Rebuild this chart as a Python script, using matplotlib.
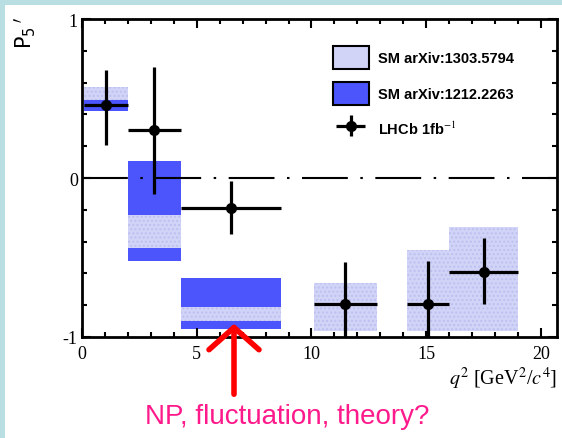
import matplotlib
matplotlib.use('Agg')
import matplotlib.pyplot as plt
from matplotlib.patches import Patch, Rectangle, FancyArrowPatch
from matplotlib.ticker import MultipleLocator
from matplotlib.legend_handler import HandlerErrorbar

plt.rcParams['mathtext.fontset'] = 'stix'
plt.rcParams['axes.unicode_minus'] = False

# LHCb 1fb-1 P5' bins
bin_lo = [0.1, 2.0, 4.3, 10.09, 14.18, 16.0]
bin_hi = [2.0, 4.3, 8.68, 12.86, 16.0, 19.0]
p5 = [0.46, 0.30, -0.19, -0.79, -0.79, -0.59]
err_up = [0.22, 0.40, 0.17, 0.26, 0.27, 0.21]
err_dn = [0.25, 0.40, 0.16, 0.27, 0.25, 0.20]

# SM arXiv:1303.5794 (light boxes)
sm1_lo = [0.49, -0.44, -0.90, -0.96, -0.96, -0.96]
sm1_hi = [0.57, -0.23, -0.81, -0.66, -0.45, -0.31]

# SM arXiv:1212.2263 (dark boxes, low q2 only)
sm2_xlo = [0.1, 2.0, 4.3]
sm2_xhi = [2.0, 4.3, 8.68]
sm2_lo = [0.42, -0.52, -0.95]
sm2_hi = [0.50, 0.11, -0.63]

light = '#d2d4f7'
dark = '#4b55fb'

fig = plt.figure(figsize=(5.62, 4.39), dpi=100)
fig.patch.set_facecolor('#b9dfe2')
fig.add_artist(Rectangle((5/562, 0), 1, 1 - 6/439, transform=fig.transFigure,
                         facecolor='white', edgecolor='none', zorder=0))

ax = fig.add_axes([82/562, 1 - 338/439, 475/562, 318/439])
ax.set_facecolor('white')

# theory bands
ax.bar(sm2_xlo, [h - l for h, l in zip(sm2_hi, sm2_lo)],
       width=[b - a for a, b in zip(sm2_xlo, sm2_xhi)], bottom=sm2_lo,
       align='edge', color=dark, edgecolor='none', zorder=1)
ax.bar(bin_lo, [h - l for h, l in zip(sm1_hi, sm1_lo)],
       width=[b - a for a, b in zip(bin_lo, bin_hi)], bottom=sm1_lo,
       align='edge', color=light, edgecolor='#bcc0f0', linewidth=0,
       hatch='....', zorder=2)

# zero line
ax.axhline(0, color='black', lw=1.5, dashes=(22, 6, 1.2, 6), zorder=3)

# data
xc = [(a + b) / 2 for a, b in zip(bin_lo, bin_hi)]
xerr = [[c - a for c, a in zip(xc, bin_lo)], [b - c for c, b in zip(xc, bin_hi)]]
eb = ax.errorbar(xc, p5, xerr=xerr, yerr=[err_dn, err_up], fmt='o', color='black',
                 ms=7, elinewidth=2.3, capsize=0, zorder=4)

ax.set_xlim(0, 20.7)
ax.set_ylim(-1, 1)
ax.xaxis.set_major_locator(MultipleLocator(5))
ax.xaxis.set_minor_locator(MultipleLocator(1))
ax.yaxis.set_major_locator(MultipleLocator(1))
ax.yaxis.set_minor_locator(MultipleLocator(0.2))
ax.tick_params(which='both', direction='in', top=True, right=True, width=1.5)
ax.tick_params(which='major', length=6.5)
ax.tick_params(which='minor', length=3.6)
ax.tick_params(axis='x', pad=6)
ax.tick_params(axis='y', pad=3)
for s in ax.spines.values():
    s.set_linewidth(2)
for lab in ax.get_xticklabels() + ax.get_yticklabels():
    lab.set_family('Liberation Serif')
    lab.set_fontsize(13)

ax.set_xlabel(r'$q^2$ [GeV$^2$/$c^4$]', family='Liberation Serif', fontsize=14.5,
              loc='right', labelpad=2)

fig.text(25/562, 1 - 33/439, r"$\mathrm{P}_{5}\,^{\prime}$", rotation=90, fontsize=15,
         ha='center', va='center', math_fontfamily='dejavusans')

handles = [Patch(facecolor=light, edgecolor='black', linewidth=1.5),
           Patch(facecolor=dark, edgecolor='black', linewidth=1.5), eb]
labels = ['SM arXiv:1303.5794', 'SM arXiv:1212.2263', r'LHCb 1fb$^{-1}$']
leg = ax.legend(handles, labels, loc='upper left', bbox_to_anchor=(0.50, 0.955),
                frameon=False, handlelength=2.5, handleheight=2.0, labelspacing=0.9,
                handletextpad=0.6, prop={'family': 'Liberation Sans', 'weight': 'bold',
                                         'size': 10.5},
                handler_map={type(eb): HandlerErrorbar(xerr_size=1.0, yerr_size=0.7)})

# annotation
arrow = FancyArrowPatch((234/562, 1 - 398/439), (234/562, 1 - 322/439),
                        transform=fig.transFigure, arrowstyle='->,head_length=8,head_width=9',
                        color='red', lw=4, mutation_scale=2, zorder=10)
fig.add_artist(arrow)
fig.text(287/562, 1 - 417/439, 'NP, fluctuation, theory?', color='#ff1a8c',
         fontsize=20, ha='center', va='center', family='Liberation Sans')

fig.savefig('out.png', dpi=100, facecolor=fig.get_facecolor())
